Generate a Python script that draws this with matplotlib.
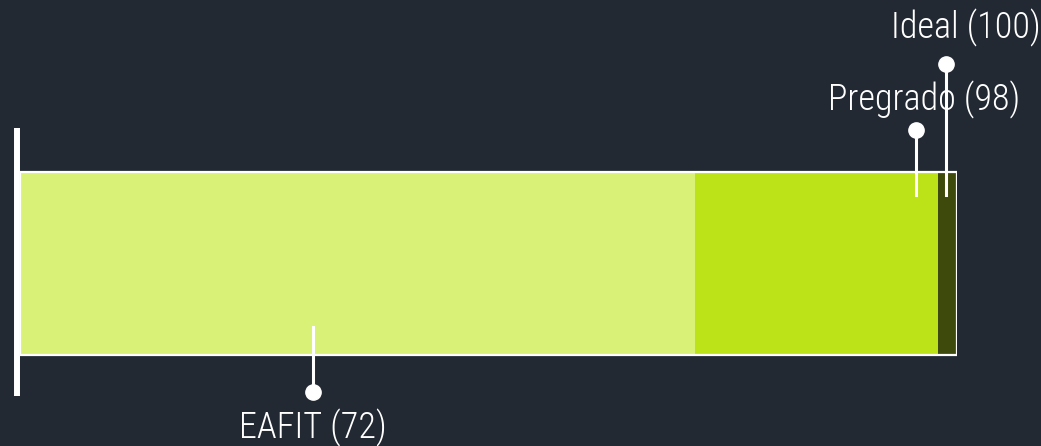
import matplotlib
matplotlib.use("Agg")
import matplotlib.pyplot as plt

# Data
labels = ["EAFIT", "Pregrado", "Ideal"]
values = [72, 98, 100]
colors = ["#d8f176", "#bbe318", "#3e4a0b"]
label_x = [31.3, 95.6, 98.8]   # stem positions along the scale

BG = "#222933"
FONT = ["Roboto Condensed", "DejaVu Sans"]

W, H = 1041, 446
fig = plt.figure(figsize=(W / 100, H / 100), dpi=100, facecolor=BG)
x0, x1 = 20, 957
ax = fig.add_axes([x0 / W, 0, (x1 - x0) / W, 1])
ax.set_facecolor(BG)
ax.set_xlim(0, 100)
ax.set_ylim(H, 0)
ax.axis("off")

bar_top, bar_bot = 172, 355
yc = (bar_top + bar_bot) / 2
hgt = bar_bot - bar_top

# stacked segments
prev = 0
for v, c in zip(values, colors):
    ax.barh(yc, v - prev, left=prev, height=hgt, color=c, edgecolor="none", zorder=2)
    prev = v
# outline
ax.barh(yc, values[-1], left=0, height=hgt, color="none", edgecolor="white", linewidth=1.6, zorder=3)

# left baseline line
px = (x1 - x0) / 100.0
ax.plot([-3 / px, -3 / px], [128, 396], color="white", lw=4.3, solid_capstyle="butt", clip_on=False, zorder=4)

# stems + markers + labels
stems = [(327, 392, 438), (195, 130, 110), (195, 64, 38)]
text_x = [31.3, 96.5, 100.9]
for i, (lab, v) in enumerate(zip(labels, values)):
    ys, ym, yt = stems[i]
    xs = label_x[i]
    ax.plot([xs, xs], [ys, ym], color="white", lw=2.2, zorder=5, clip_on=False)
    ax.plot([xs], [ym], "o", color="white", ms=11, zorder=6, clip_on=False)
    ax.text(text_x[i], yt, f"{lab} ({v})", color="white", fontsize=26, family=FONT,
            fontweight="light", ha="center", va="baseline", clip_on=False, zorder=7)

fig.savefig("out.png", dpi=100, facecolor=BG)
